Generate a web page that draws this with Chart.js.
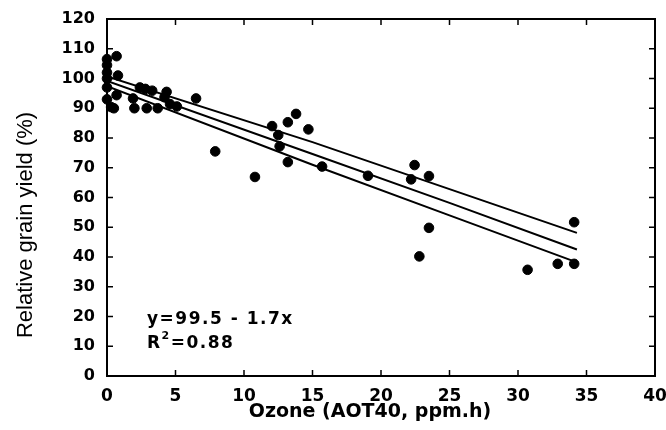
<!DOCTYPE html>
<html>
<head>
<meta charset="utf-8">
<script src="https://cdn.jsdelivr.net/npm/chart.js@4/dist/chart.umd.min.js"></script>
<style>
  html, body { margin: 0; padding: 0; background: #fff; }
</style>
</head>
<body>
<canvas id="myChart" width="666" height="430"></canvas>
<script>
// observed points: ozone AOT40 (ppm.h) vs relative grain yield (%)
const ozone = [0, 0, 0, 0, 0, 0, 0.3, 0.5, 0.7, 0.8, 0.7,
  1.9, 2.4, 2.8, 3.3, 2.0, 2.9, 3.7, 4.35, 4.2, 4.6, 5.1, 6.5,
  7.9, 10.8, 12.05, 12.5, 13.2, 13.8, 14.7, 12.6, 13.2, 15.7, 19.05,
  22.45, 22.2, 23.5, 23.5, 22.8, 30.7, 32.9, 34.1, 34.1];
const yieldPct = [106.5, 104.5, 102, 100, 97, 93, 90.4, 90, 107.5, 101, 94.4,
  93.3, 97, 96.5, 95.9, 90, 90, 90, 95.5, 93.7, 91.4, 90.6, 93.3,
  75.5, 66.9, 84, 81, 85.3, 88.1, 82.9, 77.2, 71.9, 70.4, 67.3,
  70.9, 66.1, 67.2, 49.8, 40.2, 35.7, 37.7, 37.7, 51.7];

// regression line and its confidence band
const fitX = [0, 15, 25, 34.3];
const fitMid = [99.2, 74.6, 58.2, 42.5];
const fitUpper = [100.7, 78.6, 62.8, 48.1];
const fitLower = [97.4, 71.0, 54.0, 38.2];

const xTicks = [0, 5, 10, 15, 20, 25, 30, 35, 40];
const yTicks = [0, 10, 20, 30, 40, 50, 60, 70, 80, 90, 100, 110, 120];

const xTitle = 'Ozone (AOT40, ppm.h)';
const yTitle = 'Relative grain yield (%)';
const eqText = 'y=99.5 - 1.7x';
const r2Value = '0.88';

function toXY(xs, ys) {
  return xs.map((x, i) => ({x: x, y: ys[i]}));
}

const lineStyle = {
  type: 'line',
  showLine: true,
  borderColor: '#000',
  borderWidth: 2,
  pointRadius: 0,
  fill: false,
  tension: 0
};

// box frame with inward ticks on all four sides, axis titles, regression text
const framePlugin = {
  id: 'frame',
  afterDraw(chart) {
    const c = chart.ctx;
    const a = chart.chartArea;
    const xs = chart.scales.x, ys = chart.scales.y;
    c.save();
    c.strokeStyle = '#000';
    c.lineWidth = 2;
    c.strokeRect(a.left, a.top, a.right - a.left, a.bottom - a.top);
    c.lineWidth = 1.5;
    c.beginPath();
    xTicks.forEach(v => {
      const px = xs.getPixelForValue(v);
      c.moveTo(px, a.bottom); c.lineTo(px, a.bottom - 6);
      c.moveTo(px, a.top); c.lineTo(px, a.top + 6);
    });
    yTicks.forEach(v => {
      const py = ys.getPixelForValue(v);
      c.moveTo(a.left, py); c.lineTo(a.left + 6, py);
      c.moveTo(a.right, py); c.lineTo(a.right - 6, py);
    });
    c.stroke();

    c.fillStyle = '#000';
    c.textAlign = 'center';
    c.textBaseline = 'middle';
    c.font = 'bold 19px "DejaVu Sans"';
    c.fillText(xTitle, 370, 412);
    c.save();
    c.translate(26, 225);
    c.rotate(-Math.PI / 2);
    c.font = '22px "Liberation Sans", Arial, sans-serif';
    c.fillText(yTitle, 0, 0);
    c.restore();

    c.textAlign = 'left';
    c.textBaseline = 'alphabetic';
    c.letterSpacing = '1.5px';
    c.font = 'bold 17px "DejaVu Sans"';
    c.fillText(eqText, 147, 324);
    c.fillText('R', 147, 348);
    const rw = c.measureText('R').width;
    c.font = 'bold 11px "DejaVu Sans"';
    c.fillText('2', 147 + rw, 339);
    const sw = c.measureText('2').width;
    c.font = 'bold 17px "DejaVu Sans"';
    c.fillText('=' + r2Value, 147 + rw + sw, 348);
    c.restore();
  }
};

const ctx = document.getElementById('myChart').getContext('2d');

const myChart = new Chart(ctx, {
  type: 'scatter',
  data: {
    datasets: [
      {
        label: 'observed',
        data: toXY(ozone, yieldPct),
        backgroundColor: '#000',
        borderColor: '#000',
        pointRadius: 4.8,
        pointHoverRadius: 4.8,
        clip: false
      },
      Object.assign({label: 'fit', data: toXY(fitX, fitMid)}, lineStyle),
      Object.assign({label: 'upper', data: toXY(fitX, fitUpper)}, lineStyle),
      Object.assign({label: 'lower', data: toXY(fitX, fitLower)}, lineStyle)
    ]
  },
  options: {
    responsive: false,
    animation: false,
    layout: {padding: {top: 19, right: 11, left: 0, bottom: 0}},
    plugins: {
      legend: {display: false},
      tooltip: {enabled: false}
    },
    scales: {
      x: {
        type: 'linear',
        min: 0,
        max: 40,
        grid: {display: false, drawTicks: false},
        border: {display: false},
        afterBuildTicks: s => { s.ticks = xTicks.map(v => ({value: v})); },
        afterFit: s => { s.height = 54; s.paddingLeft = 0; s.paddingRight = 0; },
        ticks: {
          color: '#000',
          padding: 10,
          font: {family: '"DejaVu Sans"', size: 17, weight: 'bold'}
        },
        title: {display: false}
      },
      y: {
        type: 'linear',
        min: 0,
        max: 120,
        grid: {display: false, drawTicks: false},
        border: {display: false},
        afterBuildTicks: s => { s.ticks = yTicks.map(v => ({value: v})); },
        afterFit: s => { s.width = 107; s.paddingTop = 0; s.paddingBottom = 0; },
        ticks: {
          color: '#000',
          padding: 12,
          font: {family: '"DejaVu Sans"', size: 16, weight: 'bold'}
        },
        title: {display: false}
      }
    }
  },
  plugins: [framePlugin]
});
</script>
</body>
</html>
